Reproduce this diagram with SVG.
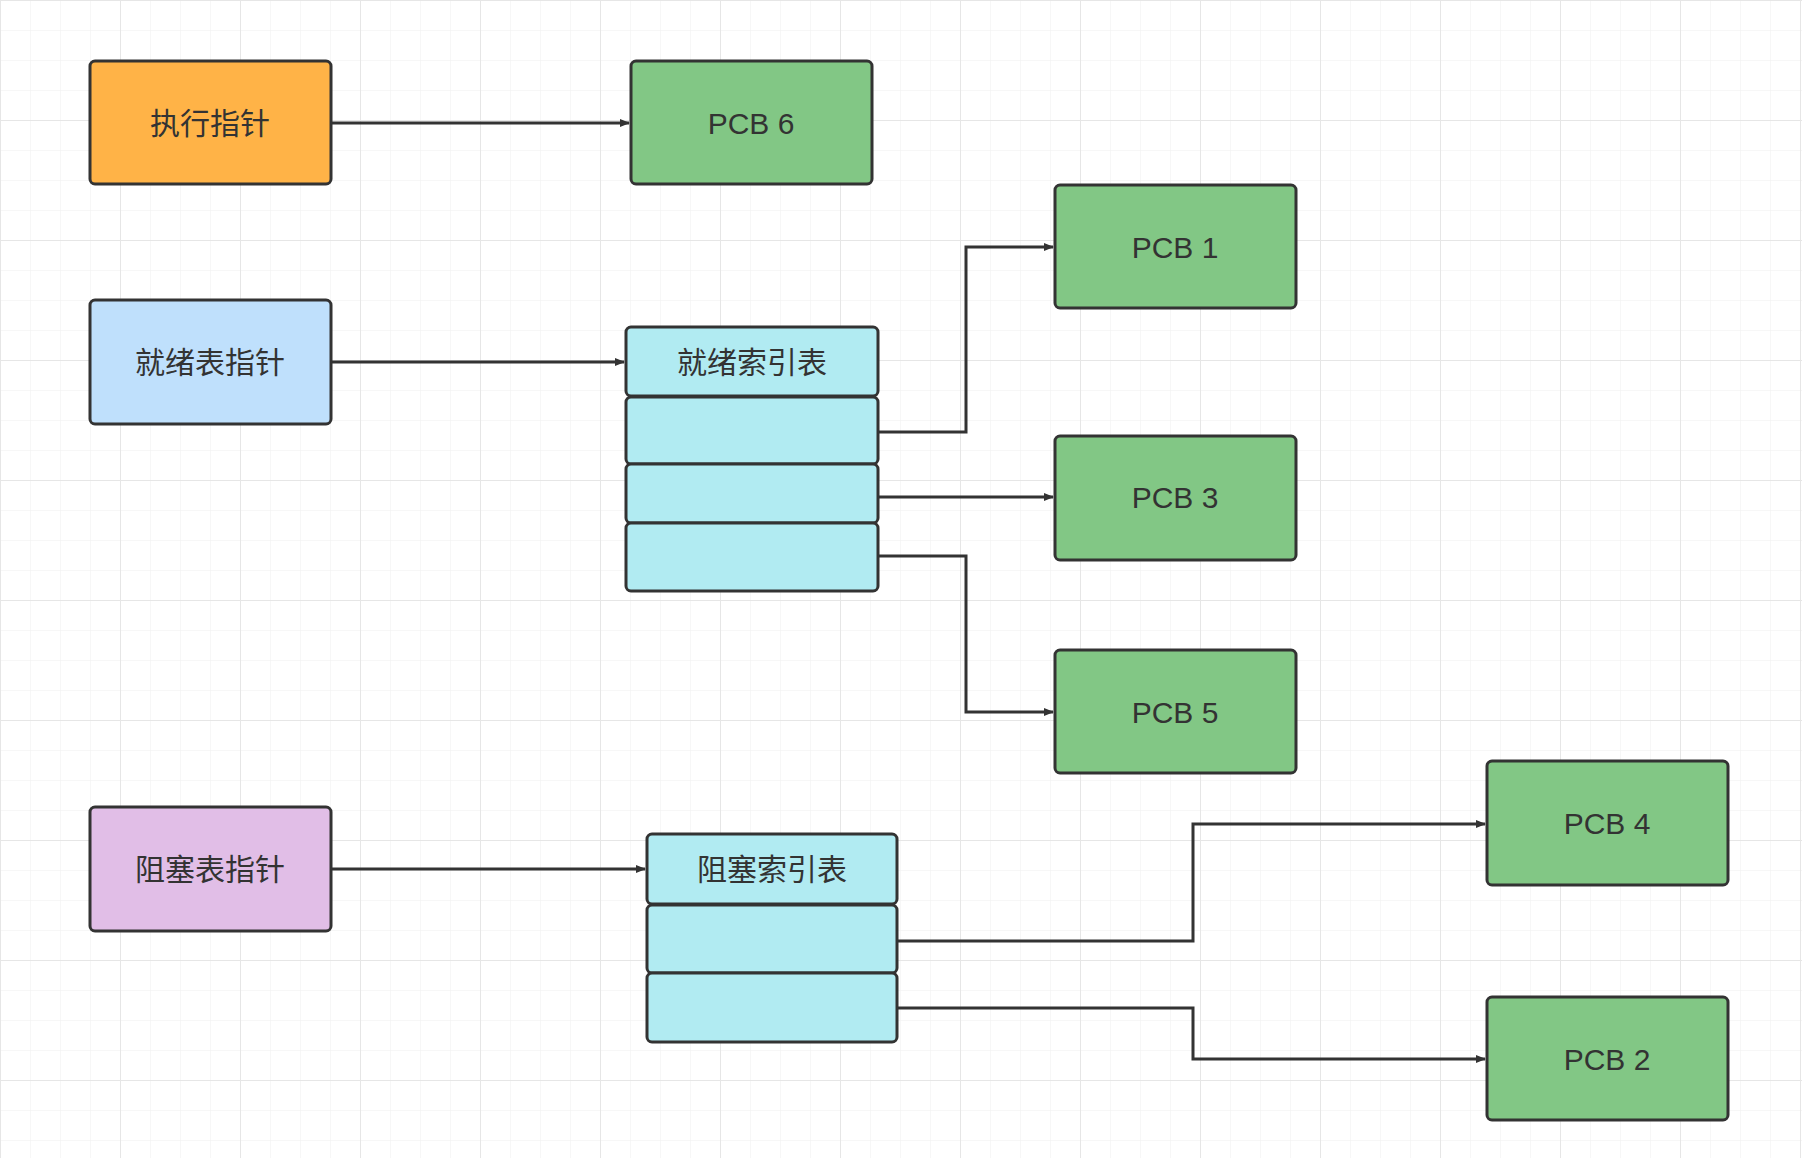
<svg xmlns="http://www.w3.org/2000/svg" width="1802" height="1158" viewBox="0 0 1802 1158">
<defs>
<pattern id="g" width="30" height="30" patternUnits="userSpaceOnUse"><path d="M30 0H0V30" fill="none" stroke="#f0f0f0" stroke-width="1"/></pattern>
<pattern id="G" width="120" height="120" patternUnits="userSpaceOnUse"><rect width="120" height="120" fill="url(#g)"/><path d="M120 0H0V120" fill="none" stroke="#e6e6e6" stroke-width="2"/></pattern>
<marker id="a" markerWidth="10" markerHeight="8" refX="9" refY="4" orient="auto" markerUnits="userSpaceOnUse" viewBox="0 0 10 8"><path d="M0 0L10 4L0 8z" fill="#333"/></marker>
</defs>
<style>
.n{stroke:#333;stroke-width:3}
text{font-family:"Liberation Sans","Noto Sans CJK SC",sans-serif;font-size:30px;fill:#333;text-anchor:middle;dominant-baseline:central}
.c path{fill:none;stroke:#333;stroke-width:3;marker-end:url(#a)}
</style>
<rect width="1802" height="1158" fill="#fff"/>
<rect width="1802" height="1158" fill="url(#G)"/>
<g class="c">
<path d="M331 123H629" transform="translate(0,0)"/>
<path d="M331 362H624"/>
<path d="M878 432H966V247H1053"/>
<path d="M878 497H1053"/>
<path d="M878 556H966V712H1053"/>
<path d="M331 869H645"/>
<path d="M897 941H1193V824H1485"/>
<path d="M897 1008H1193V1059H1485"/>
</g>
<g id="exec"><rect class="n" x="90" y="61" width="241" height="123" rx="5" fill="#ffb347"/><text x="210" y="123">执行指针</text></g>
<g id="pcb6"><rect class="n" x="631" y="61" width="241" height="123" rx="5" fill="#82c785"/><text x="751" y="123">PCB 6</text></g>
<g id="ready"><rect class="n" x="90" y="300" width="241" height="124" rx="5" fill="#bfe0fc"/><text x="210" y="362">就绪表指针</text></g>
<g id="readyidx">
<rect class="n" x="626" y="327" width="252" height="69" rx="5" fill="#b1ebf2"/><text x="752" y="362">就绪索引表</text>
<rect class="n" x="626" y="397" width="252" height="67" rx="5" fill="#b1ebf2"/>
<rect class="n" x="626" y="464" width="252" height="59" rx="5" fill="#b1ebf2"/>
<rect class="n" x="626" y="523" width="252" height="68" rx="5" fill="#b1ebf2"/>
</g>
<g id="pcb1"><rect class="n" x="1055" y="185" width="241" height="123" rx="5" fill="#82c785"/><text x="1175" y="247">PCB 1</text></g>
<g id="pcb3"><rect class="n" x="1055" y="436" width="241" height="124" rx="5" fill="#82c785"/><text x="1175" y="497">PCB 3</text></g>
<g id="pcb5"><rect class="n" x="1055" y="650" width="241" height="123" rx="5" fill="#82c785"/><text x="1175" y="712">PCB 5</text></g>
<g id="block"><rect class="n" x="90" y="807" width="241" height="124" rx="5" fill="#e1bee7"/><text x="210" y="869">阻塞表指针</text></g>
<g id="blockidx">
<rect class="n" x="647" y="834" width="250" height="70" rx="5" fill="#b1ebf2"/><text x="772" y="869">阻塞索引表</text>
<rect class="n" x="647" y="905" width="250" height="68" rx="5" fill="#b1ebf2"/>
<rect class="n" x="647" y="973" width="250" height="69" rx="5" fill="#b1ebf2"/>
</g>
<g id="pcb4"><rect class="n" x="1487" y="761" width="241" height="124" rx="5" fill="#82c785"/><text x="1607" y="823">PCB 4</text></g>
<g id="pcb2"><rect class="n" x="1487" y="997" width="241" height="123" rx="5" fill="#82c785"/><text x="1607" y="1059">PCB 2</text></g>
</svg>
